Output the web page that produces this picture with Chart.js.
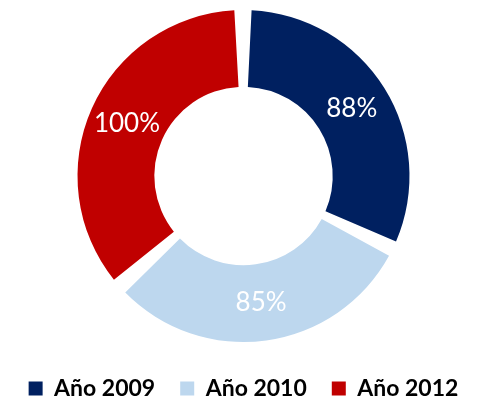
<!DOCTYPE html>
<html>
<head>
<meta charset="utf-8">
<script src="https://cdn.jsdelivr.net/npm/chart.js@4"></script>
<style>
  html, body { margin: 0; padding: 0; background: #fff; }
  #wrap { width: 487px; height: 400px; }
</style>
</head>
<body>
<div id="wrap"><canvas id="donut"></canvas></div>
<script>
const labels = ["Año 2009", "Año 2010", "Año 2012"];
const values = [88, 85, 100];
const colors = ["#002060", "#BDD7EE", "#C00000"];

// white value labels in the middle of each ring slice
const sliceLabels = {
  id: "sliceLabels",
  afterDatasetsDraw(chart) {
    const ctx = chart.ctx;
    const meta = chart.getDatasetMeta(0);
    ctx.save();
    ctx.font = "26px Lato";
    ctx.fillStyle = "#ffffff";
    ctx.textAlign = "center";
    ctx.textBaseline = "middle";
    meta.data.forEach(function (arc, i) {
      const pos = arc.tooltipPosition();
      ctx.fillText(values[i] + "%", pos.x, pos.y);
    });
    ctx.restore();
  },
};

new Chart(document.getElementById("donut"), {
  type: "doughnut",
  data: {
    labels: labels,
    datasets: [
      {
        data: values,
        backgroundColor: colors,
        borderWidth: 0,
        spacing: 12,
      },
    ],
  },
  options: {
    responsive: true,
    maintainAspectRatio: false,
    animation: false,
    cutout: "52%",
    radius: 160,
    layout: { padding: 0 },
    plugins: {
      tooltip: { enabled: false },
      legend: {
        position: "bottom",
        maxHeight: 48,
        labels: {
          color: "#000000",
          font: { family: "Lato", size: 23, weight: "bold" },
          boxWidth: 14,
          boxHeight: 14,
          padding: 25,
        },
      },
    },
  },
  plugins: [sliceLabels],
});
</script>
</body>
</html>
